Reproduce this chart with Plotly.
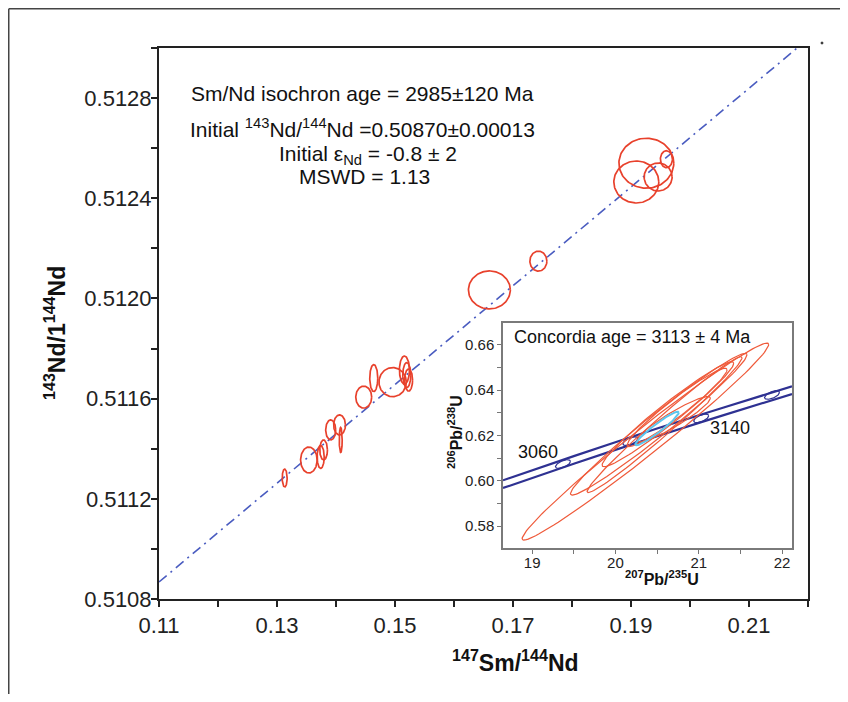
import numpy as np
import plotly.graph_objects as go

# ---------------- Sm-Nd isochron data (main panel) ----------------
sm_nd = [0.1313, 0.1354, 0.1374, 0.1379, 0.1391, 0.1406, 0.1408, 0.1447, 0.1464,
         0.1496, 0.1516, 0.1520, 0.1523, 0.1660, 0.1743, 0.1926, 0.1909, 0.1946, 0.1960]
nd_ratio = [0.511283, 0.511355, 0.511367, 0.511395, 0.511475, 0.511495, 0.511435, 0.511606,
            0.511682, 0.511666, 0.511714, 0.511694, 0.511674, 0.512034, 0.512149, 0.512540,
            0.512465, 0.512485, 0.512556]
sm_nd_err = [0.00042, 0.00140, 0.00060, 0.00065, 0.00085, 0.00100, 0.00025, 0.00135, 0.00068,
             0.00232, 0.00085, 0.00068, 0.00068, 0.00355, 0.00144, 0.00465, 0.00381, 0.00237, 0.00102]
nd_err = [0.0000359, 0.0000519, 0.0000459, 0.0000399, 0.0000399, 0.0000399, 0.0000499, 0.0000439,
          0.0000539, 0.0000580, 0.0000560, 0.0000500, 0.0000440, 0.0000758, 0.0000399, 0.0000998,
          0.0000838, 0.0000559, 0.0000339]

iso_intercept = 0.50870
iso_slope = 0.01971
iso_x = [0.11, 0.22]

x_ticks = [0.11, 0.13, 0.15, 0.17, 0.19, 0.21]
y_ticks = [0.5108, 0.5112, 0.5116, 0.5120, 0.5124, 0.5128]

# ---------------- U-Pb concordia data (inset) ----------------
upb_x = [20.36, 20.52, 20.59, 20.63, 20.74, 20.70]
upb_sx = [1.48, 1.06, 0.93, 0.79, 0.60, 0.44]
upb_y = [0.6173, 0.6250, 0.6248, 0.6294, 0.6324, 0.6272]
upb_sy = [0.0435, 0.0313, 0.0300, 0.0232, 0.0173, 0.0100]
upb_rho = [0.985, 0.98, 0.985, 0.97, 0.96, 0.93]

conc_age_x, conc_age_sx = 20.50, 0.26
conc_age_y, conc_age_sy = 0.6231, 0.0074
conc_age_rho = 0.95

conc_x = [18.65, 19.5, 20.5, 21.3, 22.12]
conc_upper = [0.6002, 0.6109, 0.6231, 0.6324, 0.6417]
conc_lower = [0.5968, 0.6075, 0.6197, 0.6290, 0.6383]

marker_ages = [3060, 3100, 3140, 3180]
marker_x = [19.37, 20.18, 21.03, 21.88]
marker_y = [0.6074, 0.6175, 0.6276, 0.6379]

inset_x_ticks = [19, 20, 21, 22]
inset_y_ticks = [0.58, 0.60, 0.62, 0.64, 0.66]

# ---------------- geometry helpers (page pixels -> paper) ----------------
OFF = 8                      # default page body margin
W, H = 848 - 2 * OFF, 702 - 2 * OFF
L, R, T, B = 159, 808, 48, 599   # plot area in page pixels


def px(xp):
    return (xp - L) / (R - L)


def py(yp):
    return (B - yp) / (B - T)


theta = np.linspace(0, 2 * np.pi, 121)


def ellipse(cx, cy, sx, sy, rho=0.0):
    ex = cx + sx * np.cos(theta)
    ey = cy + sy * (rho * np.cos(theta) + np.sqrt(1 - rho ** 2) * np.sin(theta))
    return ex, ey


FONT = "Liberation Sans, Arial, Helvetica, sans-serif"
fig = go.Figure()

# isochron line
fig.add_trace(go.Scatter(
    x=iso_x, y=[iso_intercept + iso_slope * v for v in iso_x], mode="lines",
    line=dict(color="#4a5cc0", width=1.6, dash="10px,5px,2px,5px"),
    hoverinfo="skip", showlegend=False, xaxis="x", yaxis="y"))

# Sm-Nd ellipses
for cx, cy, sx, sy in zip(sm_nd, nd_ratio, sm_nd_err, nd_err):
    ex, ey = ellipse(cx, cy, sx, sy)
    fig.add_trace(go.Scatter(x=ex, y=ey, mode="lines",
                             line=dict(color="#e8412c", width=1.7),
                             hoverinfo="skip", showlegend=False, xaxis="x", yaxis="y"))

# inset: concordia band
for yy in (conc_upper, conc_lower):
    fig.add_trace(go.Scatter(x=conc_x, y=yy, mode="lines", line=dict(color="#2e3192", width=2.2),
                             line_shape="spline", hoverinfo="skip", showlegend=False,
                             xaxis="x2", yaxis="y2"))
for mx, my in zip(marker_x, marker_y):
    ex, ey = ellipse(mx, my, 0.09, 0.0019, 0.6)
    fig.add_trace(go.Scatter(x=ex, y=ey, mode="lines", line=dict(color="#2e3192", width=1.2),
                             hoverinfo="skip", showlegend=False, xaxis="x2", yaxis="y2"))

# inset: U-Pb ellipses
for cx, cy, sx, sy, r in zip(upb_x, upb_y, upb_sx, upb_sy, upb_rho):
    ex, ey = ellipse(cx, cy, sx, sy, r)
    fig.add_trace(go.Scatter(x=ex, y=ey, mode="lines", line=dict(color="#ef5a3a", width=1.2),
                             hoverinfo="skip", showlegend=False, xaxis="x2", yaxis="y2"))
ex, ey = ellipse(conc_age_x, conc_age_y, conc_age_sx, conc_age_sy, conc_age_rho)
fig.add_trace(go.Scatter(x=ex, y=ey, mode="lines", line=dict(color="#5cc6ee", width=2),
                         hoverinfo="skip", showlegend=False, xaxis="x2", yaxis="y2"))

tickfont = dict(family=FONT, size=22, color="#222")
insetfont = dict(family=FONT, size=15, color="#222")

fig.update_layout(
    width=W, height=H,
    margin=dict(l=L - OFF, r=W - (R - OFF), t=T - OFF, b=H - (B - OFF), pad=0),
    paper_bgcolor="white", plot_bgcolor="white",
    showlegend=False,
    xaxis=dict(domain=[0, 1], range=[0.11, 0.22], tickvals=x_ticks,
               ticktext=[f"{v:.2f}" for v in x_ticks],
               ticks="outside", ticklen=6, tickwidth=1.5, tickcolor="#222",
               minor=dict(tick0=0.11, dtick=0.01, ticks="outside", ticklen=6, tickwidth=1.5, tickcolor="#222"),
               showline=True, linecolor="#222", linewidth=2, mirror=True,
               showgrid=False, zeroline=False, tickfont=tickfont, anchor="y"),
    yaxis=dict(domain=[0, 1], range=[0.5108, 0.5130], tickvals=y_ticks,
               ticktext=[f"{v:.4f}" for v in y_ticks],
               ticks="outside", ticklen=6, tickwidth=1.5, tickcolor="#222",
               minor=dict(tick0=0.5108, dtick=0.0002, ticks="outside", ticklen=6, tickwidth=1.5, tickcolor="#222"),
               showline=True, linecolor="#222", linewidth=2, mirror=True,
               ticklabelstandoff=-5,
               showgrid=False, zeroline=False, tickfont=tickfont, anchor="x"),
    xaxis2=dict(domain=[px(503), px(792)], range=[18.65, 22.12], tickvals=inset_x_ticks,
                ticktext=[str(v) for v in inset_x_ticks],
                ticks="outside", ticklen=4, tickwidth=1.2, tickcolor="#777",
                minor=dict(tick0=19, dtick=0.5, ticks="outside", ticklen=4, tickwidth=1.2, tickcolor="#777"),
                showline=True, linecolor="#7a7a7a", linewidth=1.5, mirror=True,
                ticklabelstandoff=-4,
                showgrid=False, zeroline=False, tickfont=insetfont, anchor="y2"),
    yaxis2=dict(domain=[py(548), py(323)], range=[0.5703, 0.6697], tickvals=inset_y_ticks,
                ticktext=[f"{v:.2f}" for v in inset_y_ticks],
                ticks="outside", ticklen=4, tickwidth=1.2, tickcolor="#777",
                minor=dict(tick0=0.58, dtick=0.01, ticks="outside", ticklen=4, tickwidth=1.2, tickcolor="#777"),
                showline=True, linecolor="#7a7a7a", linewidth=1.5, mirror=True,
                showgrid=False, zeroline=False, tickfont=insetfont, anchor="x2"),
)


def ann(text, xp, yp, size, bold=False, angle=0, xanchor="center"):
    if bold:
        text = "<b>" + text + "</b>"
    fig.add_annotation(text=text, x=px(xp), y=py(yp), xref="paper", yref="paper",
                       showarrow=False, xanchor=xanchor, yanchor="middle", textangle=angle,
                       font=dict(family=FONT, size=size, color="#111"))


# main text block
ann("Sm/Nd isochron age = 2985±120 Ma", 362, 93, 21)
ann("Initial <sup>143</sup>Nd/<sup>144</sup>Nd =0.50870±0.00013", 362, 128, 21)
ann("Initial ε<sub>Nd</sub> = -0.8 ± 2", 368, 155, 21)
ann("MSWD = 1.13", 364, 176, 21)

# axis titles
ann("<sup>147</sup>Sm/<sup>144</sup>Nd", 515, 661, 23, bold=True)
ann("<sup>143</sup>Nd/1<sup>144</sup>Nd", 55, 333, 23, bold=True, angle=-90)

# inset texts
ann("Concordia age = 3113 ± 4 Ma", 632, 337, 18)
ann(str(marker_ages[0]), 538, 452, 18)
ann(str(marker_ages[2]), 730, 428, 18)
ann("<sup>207</sup>Pb/<sup>235</sup>U", 662, 578, 16, bold=True)
ann("<sup>206</sup>Pb/<sup>238</sup>U", 455, 432, 16, bold=True, angle=-90)

# outer page border (top and left) and stray dot
fig.add_shape(type="line", xref="paper", yref="paper", x0=px(OFF + 0.75), y0=py(OFF + 0.75),
              x1=px(OFF + W), y1=py(OFF + 0.75), line=dict(color="#444", width=1.5))
fig.add_shape(type="line", xref="paper", yref="paper", x0=px(OFF + 0.75), y0=py(OFF + 0.75),
              x1=px(OFF + 0.75), y1=py(OFF + H), line=dict(color="#444", width=1.5))
fig.add_shape(type="circle", xref="paper", yref="paper", x0=px(821), y0=py(42), x1=px(823), y1=py(44),
              line=dict(color="#333", width=1), fillcolor="#333")

fig.write_html("out.html")
